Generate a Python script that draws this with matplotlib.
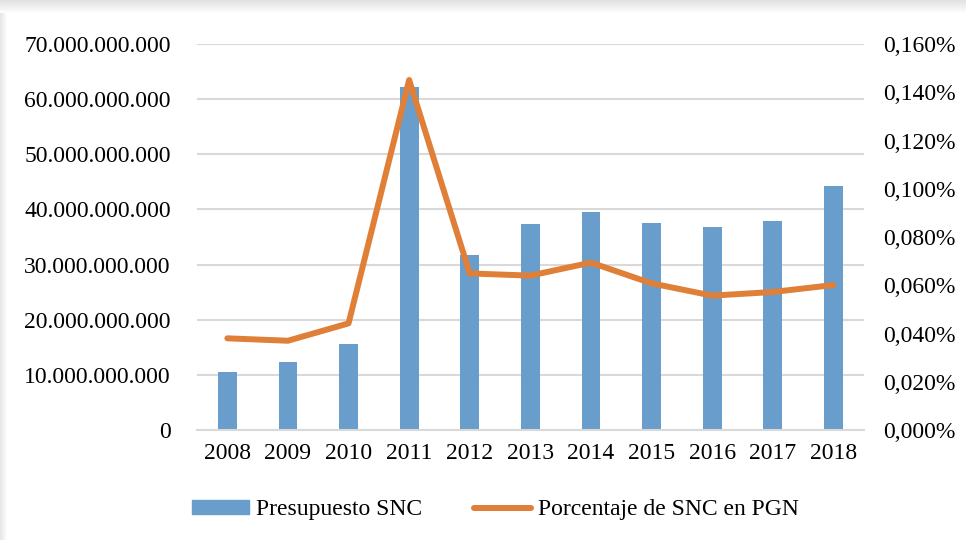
import matplotlib.pyplot as plt
import numpy as np
from matplotlib.ticker import FuncFormatter, MultipleLocator
from matplotlib.patches import Patch
from matplotlib.lines import Line2D

plt.rcParams['font.family'] = ['Liberation Serif', 'DejaVu Serif']

years = ["2008", "2009", "2010", "2011", "2012", "2013", "2014", "2015", "2016", "2017", "2018"]
# Presupuesto SNC (pesos)
presupuesto = [10.57e9, 12.39e9, 15.54e9, 62.15e9, 31.74e9, 37.3e9, 39.48e9, 37.6e9, 36.8e9, 37.96e9, 44.25e9]
# Porcentaje de SNC en PGN (%)
porcentaje = [0.0380, 0.0370, 0.0442, 0.1451, 0.0649, 0.0640, 0.0694, 0.0608, 0.0557, 0.0572, 0.0601]

bar_color = "#699DCB"
line_color = "#E07F37"
grid_color = "#D9D9D9"

fig = plt.figure(figsize=(9.66, 5.4), dpi=100)

# soft shadow of the chart frame (top and left edges)
bg = fig.add_axes([0, 0, 1, 1])
shade = np.ones((540, 966))
for i in range(13):
    shade[i, :] = 0.88 + 0.12 * i / 13
for j in range(7):
    shade[13:, j] = np.minimum(shade[13:, j], 0.90 + 0.10 * j / 7)
bg.imshow(shade, cmap="gray", vmin=0, vmax=1, aspect="auto", extent=[0, 1, 0, 1])
bg.axis("off")

ax = fig.add_axes([0.204, 0.2037, 0.69, 0.7148])
x = np.arange(len(years))
ax.bar(x, presupuesto, width=0.31, color=bar_color, zorder=2)
ax.set_xlim(-0.5, len(years) - 0.5)
ax.set_ylim(0, 70e9)
ax.yaxis.set_major_locator(MultipleLocator(10e9))
ax.yaxis.set_major_formatter(FuncFormatter(lambda v, p: "0" if v == 0 else f"{int(round(v)):,}".replace(",", ".")))
ax.grid(axis="y", color=grid_color, lw=1.5, zorder=0)
ax.set_xticks(x)
ax.set_xticklabels(years)
ax.tick_params(axis="both", length=0, labelsize=17)
ax.tick_params(axis="y", pad=19)
ax.tick_params(axis="x", pad=9)
for s in ["top", "right", "left"]:
    ax.spines[s].set_visible(False)
ax.spines["bottom"].set_color(grid_color)
ax.spines["bottom"].set_linewidth(1.5)
ax.patch.set_alpha(0)

ax2 = ax.twinx()
ax2.plot(x, porcentaje, color=line_color, lw=4.3, solid_capstyle="round", solid_joinstyle="round", zorder=3)
ax2.set_ylim(0, 0.16)
ax2.yaxis.set_major_locator(MultipleLocator(0.02))
ax2.yaxis.set_major_formatter(FuncFormatter(lambda v, p: f"{v:.3f}".replace(".", ",") + "%"))
ax2.tick_params(axis="y", length=0, labelsize=17, pad=14)
for s in ["top", "right", "left", "bottom"]:
    ax2.spines[s].set_visible(False)

handles = [Patch(color=bar_color, label="Presupuesto SNC"),
           Line2D([], [], color=line_color, lw=4.3, solid_capstyle="round", label="Porcentaje de SNC en PGN")]
fig.legend(handles=handles, loc="center", bbox_to_anchor=(0.513, 0.056), ncol=2,
           frameon=False, fontsize=17, handlelength=2.4, handleheight=0.5, handletextpad=0.3, columnspacing=2.2)

fig.savefig("out.png", dpi=100)
